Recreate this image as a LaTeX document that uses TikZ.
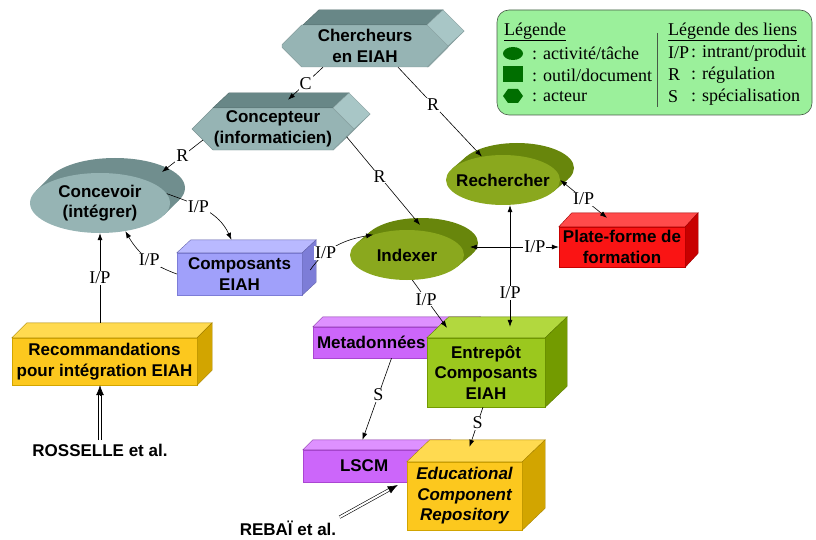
\documentclass[tikz,border=0pt]{standalone}
\usepackage{fontspec}
\setmainfont{Liberation Serif}
\setsansfont{Liberation Sans}
\usetikzlibrary{arrows.meta,shapes.geometric,shapes.misc,positioning,calc}

\definecolor{actfront}{RGB}{150,180,180}
\definecolor{acttop}{RGB}{104,135,135}
\definecolor{actside}{RGB}{168,198,198}
\definecolor{actback}{RGB}{112,142,142}
\definecolor{olivefront}{RGB}{138,168,30}
\definecolor{oliveback}{RGB}{104,134,12}
\definecolor{bluefront}{RGB}{160,160,250}
\definecolor{bluetop}{RGB}{185,185,255}
\definecolor{blueside}{RGB}{125,125,215}
\definecolor{goldfront}{RGB}{252,200,30}
\definecolor{goldtop}{RGB}{255,218,80}
\definecolor{goldside}{RGB}{210,165,0}
\definecolor{purplefront}{RGB}{204,102,250}
\definecolor{purpletop}{RGB}{222,145,255}
\definecolor{purpleside}{RGB}{170,70,210}
\definecolor{limefront}{RGB}{155,200,30}
\definecolor{limetop}{RGB}{178,216,62}
\definecolor{limeside}{RGB}{115,155,0}
\definecolor{redfront}{RGB}{250,20,20}
\definecolor{redtop}{RGB}{255,75,75}
\definecolor{redside}{RGB}{200,0,0}
\definecolor{legendfill}{RGB}{155,240,155}
\definecolor{legendborder}{RGB}{70,90,70}
\definecolor{legendicon}{RGB}{0,110,0}

\newcommand{\nodefont}{\sffamily\bfseries\fontsize{17}{20.5}\selectfont}
\newcommand{\linkfont}{\rmfamily\fontsize{18}{20}\selectfont}

% top and side faces of a hexagonal actor
\newcommand{\actordepth}[2]{%
  \filldraw[fill=acttop,draw=acttop!80!black,line width=0.4pt] ([xshift=-#2]#1.north) -- ++(16,15) -- ++(2*#2,0) -- ([xshift=#2]#1.north) -- cycle;
  \filldraw[fill=actside,draw=actside!80!black,line width=0.4pt] ([xshift=#2]#1.north) -- ++(16,15) -- ($(#1.east)+(16,15)$) -- (#1.east) -- cycle;
  \filldraw[fill=actside,draw=actside!80!black,line width=0.4pt] (#1.east) -- ++(16,15) -- ($([xshift=#2]#1.south)+(16,15)$) -- ([xshift=#2]#1.south) -- cycle;}

% top and side faces of a box
\newcommand{\tooldepth}[5]{%
  \filldraw[fill=#4,draw=#5!80!black,line width=0.4pt] (#1.north west) -- ++(#2,#3) -- ($(#1.north east)+(#2,#3)$) -- (#1.north east) -- cycle;
  \filldraw[fill=#5,draw=#5!80!black,line width=0.4pt] (#1.north east) -- ++(#2,#3) -- ($(#1.south east)+(#2,#3)$) -- (#1.south east) -- cycle;}

% back of a disc: centre, x radius, y radius, dx, dy, colour
\newcommand{\discback}[6]{%
  \pgfmathsetmacro\tanga{atan(-(#3*#4)/(#2*#5))}
  \pgfmathsetmacro\tangb{\tanga+180}
  \begin{scope}[shift={#1}]
    \fill[#6] (#4,#5) ellipse [x radius=#2, y radius=#3];
    \fill[#6] (\tanga:#2 and #3) -- ++(#4,#5) -- ($(\tangb:#2 and #3)+(#4,#5)$) -- (\tangb:#2 and #3) -- cycle;
  \end{scope}}

\begin{document}
\begin{tikzpicture}[
    x=1pt, y=1pt,
    actor/.style={chamfered rectangle, chamfered rectangle xsep=21pt, fill=actfront,
                  draw=actfront!80!black, line width=0.4pt, inner sep=0pt,
                  minimum height=42pt, align=center, font=\nodefont},
    activity/.style={ellipse, inner sep=-20pt, line width=0.4pt, align=center, font=\nodefont},
    tool/.style={rectangle, inner sep=0pt, line width=0.4pt, align=center, font=\nodefont},
    lbl/.style={fill=white, inner sep=1pt, font=\linkfont},
    legtext/.style={inner sep=1pt, font=\linkfont, anchor=west},
    legicon/.style={fill=legendicon, inner sep=0pt},
    arr/.style={-{Latex[length=7pt,width=5pt]}, line width=0.6pt},
    biarr/.style={{Latex[length=7pt,width=5pt]}-{Latex[length=7pt,width=5pt]}, line width=0.6pt},
    dbl/.style={double, double distance=2pt, line width=0.6pt},
    >=Latex
  ]
  \useasboundingbox (0,0) rectangle (816,-540);

  % legend
  \node[draw=legendborder, fill=legendfill, rounded corners=12pt, line width=0.6pt,
        minimum width=315pt, minimum height=105pt] (legend) at (654.5,-62.5) {};
  \node[legtext] (leg-title) at (503,-32) {\underline{Légende}};
  \node[legicon, ellipse, minimum width=20pt, minimum height=13pt] (leg-ell) at (513,-53.5) {};
  \node[legicon, rectangle, minimum width=20pt, minimum height=16pt] (leg-rect) at (513,-74) {};
  \fill[legendicon] (503,-96) -- (508,-89) -- (518,-89) -- (523,-96) -- (518,-103) -- (508,-103) -- cycle;
  \node[legtext] (leg-act) at (531,-53) {: activité/tâche};
  \node[legtext] (leg-tool) at (531,-75) {: outil/document};
  \node[legtext] (leg-actor) at (531,-97) {: acteur};
  \draw[legendborder, line width=0.5pt] (657,-33) -- (657,-107);
  \node[legtext] (leg-links) at (667,-32) {\underline{Légende des liens}};
  \node[legtext] (leg-ip) at (667,-53) {I/P};
  \node[legtext] (leg-r) at (667,-75) {R};
  \node[legtext] (leg-s) at (667,-97) {S};
  \node[legtext] (leg-ipt) at (690,-53) {: intrant/produit};
  \node[legtext] (leg-rt) at (690,-75) {: régulation};
  \node[legtext] (leg-st) at (690,-97) {: spécialisation};

  % actors
  \node[actor, minimum width=166pt] (chercheurs) at (365,-46) {Chercheurs\\en EIAH};
  \actordepth{chercheurs}{62}
  \node[actor, minimum width=162pt] (concepteur) at (273,-129) {Concepteur\\(informaticien)};
  \actordepth{concepteur}{60}

  % activities
  \discback{(100,-203)}{70}{30}{15}{15}{actback}
  \node[activity, fill=actfront, minimum width=140pt, minimum height=60pt] (concevoir) at (100,-203) {Concevoir\\(intégrer)};
  \discback{(503,-180)}{57}{25}{14}{12}{oliveback}
  \node[activity, fill=olivefront, minimum width=114pt, minimum height=50pt] (rechercher) at (503,-180) {Rechercher};
  \discback{(407,-255)}{57}{25}{14}{12}{oliveback}
  \node[activity, fill=olivefront, minimum width=114pt, minimum height=50pt] (indexer) at (407,-255) {Indexer};

  % tools
  \node[tool, fill=bluefront, draw=blueside, minimum width=125pt, minimum height=42pt] (composants) at (239.5,-274) {Composants\\EIAH};
  \tooldepth{composants}{14}{13}{bluetop}{blueside}
  \node[tool, fill=goldfront, draw=goldside, minimum width=185pt, minimum height=47pt] (reco) at (104.5,-361.5) {Recommandations\\pour intégration EIAH};
  \tooldepth{reco}{15}{15}{goldtop}{goldside}
  \node[tool, fill=purplefront, draw=purpleside, minimum height=31pt, text width=149pt,
        inner xsep=4pt, align=left] (metadonnees) at (391.5,-342.5) {Metadonnées};
  \tooldepth{metadonnees}{10}{10}{purpletop}{purpleside}
  \node[tool, fill=limefront, draw=limeside, minimum width=118pt, minimum height=69pt] (entrepot) at (486,-372.5) {Entrepôt\\Composants\\EIAH};
  \tooldepth{entrepot}{22}{21}{limetop}{limeside}
  \node[tool, fill=purplefront, draw=purpleside, minimum height=32pt, text width=63pt,
        inner xsep=37pt, align=left] (lscm) at (371.5,-466) {LSCM};
  \tooldepth{lscm}{10}{10}{purpletop}{purpleside}
  \node[tool, fill=goldfront, draw=goldside, minimum width=115pt, minimum height=68pt,
        font=\nodefont\itshape] (ecr) at (464.5,-496) {Educational\\Component\\Repository};
  \tooldepth{ecr}{23}{22}{goldtop}{goldside}
  \node[tool, fill=redfront, draw=redside, minimum width=126pt, minimum height=40pt] (plateforme) at (622,-247) {Plate-forme de\\formation};
  \tooldepth{plateforme}{13}{14}{redtop}{redside}

  % sources
  \node[font=\nodefont] (rosselle) at (100,-450) {ROSSELLE et al.};
  \node[font=\nodefont] (rebai) at (288,-528) {REBAÏ et al.};

  % links
  \draw[arr] ([xshift=-42pt]chercheurs.south) -- node[lbl]{C} ($(concepteur.north)+(15,8)$);
  \draw[arr] ([xshift=33pt]chercheurs.south) -- node[lbl,pos=0.42]{R} (rechercher.132);
  \draw[arr] (concepteur.189) -- node[lbl]{R} ($(concevoir)+(62,31)$);
  \draw[arr] (concepteur.-6) -- node[lbl,pos=0.45]{R} ($(indexer)+(13,30)$);
  \draw[arr] (concevoir.8) to[out=-20,in=115] node[lbl,pos=0.4]{I/P} ($(composants.north)+(-8,13)$);
  \draw[arr] (composants.west) to[out=160,in=-60] node[lbl,pos=0.45]{I/P} (concevoir.-48);
  \draw[arr] ($(reco.north -| concevoir.south)+(0,15)$) -- node[lbl]{I/P} (concevoir.south);
  \draw[arr] ($(composants.east)+(8,4)$) to[out=55,in=190] node[lbl,pos=0.3]{I/P} (indexer.149);
  \draw[biarr] ($(indexer)+(63,8)$) -- node[lbl,pos=0.73]{I/P} (plateforme.west);
  \draw[biarr] ($(rechercher.south)+(7,0)$) -- node[lbl,pos=0.72]{I/P} ($(entrepot.north)+(24,11)$);
  \draw[biarr] (rechercher.east) -- node[lbl]{I/P} ($(plateforme.north)+(-15,9)$);
  \draw[arr] (indexer.-78) -- node[lbl,pos=0.4]{I/P} ($(entrepot.north)+(-39,10)$);
  \draw[arr] (metadonnees.south) -- node[lbl,pos=0.45]{S} ($(lscm.north)+(-9,10)$);
  \draw[arr] ($(entrepot.south)+(-3,0)$) -- node[lbl,pos=0.4]{S} ($(ecr.north)+(5,15)$);

  % references
  \draw[dbl, shorten >=8pt] (rosselle.north) -- (rosselle.north |- reco.south);
  \draw[-{Latex[length=10pt,width=8pt]}, line width=0.6pt] ($(rosselle.north |- reco.south)+(0,-10)$) -- (rosselle.north |- reco.south);
  \draw[dbl, shorten >=8pt] (rebai.north east) -- ($(ecr.west)+(-9,11)$);
  \draw[-{Latex[length=10pt,width=8pt]}, line width=0.6pt] ($($(ecr.west)+(-9,11)$)!10pt!(rebai.north east)$) -- ($(ecr.west)+(-9,11)$);

\end{tikzpicture}
\end{document}
